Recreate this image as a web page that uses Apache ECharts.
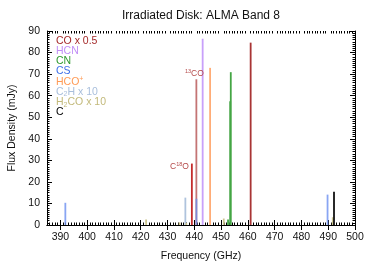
<!DOCTYPE html>
<html><head><meta charset="utf-8">
<script src="https://cdn.jsdelivr.net/npm/echarts@6/dist/echarts.min.js"></script>
<style>html,body{margin:0;padding:0;background:#fff}#c{width:374px;height:262px}</style>
</head><body><div id="c"></div>
<script>
// ---- data: [frequency GHz, flux density mJy] ----
const coLines    = [[461.04, 84.6]];
const co13Lines  = [[440.77, 67.6]];
const c18oLines  = [[439.09, 28.5]];
const hcnLines   = [[443.12, 86.4]];
const cnLines    = [[452.60, 2.5], [453.40, 57.4], [453.62, 70.9]];
const hcopLines  = [[445.90, 72.9]];
const c2hLines   = [[436.66, 12.7]];
const h2coLines  = [[422.00, 2.6], [434.50, 1.2], [437.00, 0.9], [451.00, 3.0], [491.70, 3.6]];
const csLines    = [[391.85, 10.3], [440.80, 12.2], [489.75, 14.1]];
const ciLines    = [[492.16, 15.4]];

const xTicks = [390, 400, 410, 420, 430, 440, 450, 460, 470, 480, 490, 500];
const legendNames = ['CO x 0.5', 'HCN', 'CN', 'CS', 'HCO+', 'C2H x 10', 'H2CO x 10', 'C'];

const X_MIN = 385, X_MAX = 500, Y_MIN = 0, Y_MAX = 90;
const xMinor = [];
for (let v = X_MIN + 1; v < X_MAX; v++) if (v % 10 !== 0) xMinor.push(v);

const FONT = '"Liberation Sans", Arial, sans-serif';
const seriesDefs = [
  { data: coLines,   color: '#a83434' },
  { data: co13Lines, color: '#c47474' },
  { data: c18oLines, color: '#c42c2c' },
  { data: hcnLines,  color: '#c8a0fa' },
  { data: cnLines,   color: '#44a544' },
  { data: hcopLines, color: '#ffac76' },
  { data: c2hLines,  color: '#afc3dd' },
  { data: h2coLines, color: '#cdc690' },
  { data: csLines,   color: '#6b8ff0', opacity: 0.8 },
  { data: ciLines,   color: '#111111' }
];

function makeSeries(def) {
  return {
    type: 'custom', xAxisIndex: 0, yAxisIndex: 0, data: def.data, silent: true,
    renderItem: function (params, api) {
      const p0 = api.coord([api.value(0), 0]);
      const p1 = api.coord([api.value(0), api.value(1)]);
      return { type: 'line', shape: { x1: p0[0], y1: p0[1], x2: p1[0], y2: p1[1] },
        style: { stroke: def.color, lineWidth: 1.8, opacity: def.opacity || 1 } };
    }
  };
}

const axisLineStyle = { show: true, lineStyle: { color: '#000', width: 1 } };
const chart = echarts.init(document.getElementById('c'), null, { renderer: 'canvas' });
const gridRect = { left: 47, right: 19, top: 31, bottom: 37 };
const gridBase = { containLabel: false, outerBoundsMode: 'none' };

const option = {
  animation: false,
  backgroundColor: '#fff',
  grid: [Object.assign({}, gridBase, gridRect), Object.assign({}, gridBase, gridRect)],
  xAxis: [
    { type: 'value', gridIndex: 0, position: 'bottom', min: X_MIN, max: X_MAX,
      axisLine: axisLineStyle, splitLine: { show: false },
      axisTick: { show: true, inside: true, length: 5, customValues: xTicks, lineStyle: { color: '#000' } },
      axisLabel: { show: true, customValues: xTicks, fontSize: 10.5, color: '#111', margin: 7, fontFamily: FONT },
      name: 'Frequency (GHz)', nameLocation: 'middle', nameGap: 26,
      nameTextStyle: { fontSize: 10.5, color: '#111', fontFamily: FONT } },
    { type: 'value', gridIndex: 0, position: 'top', min: X_MIN, max: X_MAX,
      axisLine: axisLineStyle, splitLine: { show: false },
      axisTick: { show: true, inside: true, length: 5, customValues: xTicks, lineStyle: { color: '#000' } },
      axisLabel: { show: false } },
    { type: 'value', gridIndex: 1, position: 'bottom', min: X_MIN, max: X_MAX,
      axisLine: { show: false }, splitLine: { show: false },
      axisTick: { show: true, inside: true, length: 2.5, customValues: xMinor, lineStyle: { color: '#000' } },
      axisLabel: { show: false } },
    { type: 'value', gridIndex: 1, position: 'top', min: X_MIN, max: X_MAX,
      axisLine: { show: false }, splitLine: { show: false },
      axisTick: { show: true, inside: true, length: 2.5, customValues: xMinor, lineStyle: { color: '#000' } },
      axisLabel: { show: false } }
  ],
  yAxis: [
    { type: 'value', gridIndex: 0, position: 'left', min: Y_MIN, max: Y_MAX, interval: 10,
      axisLine: axisLineStyle, splitLine: { show: false },
      axisTick: { show: true, inside: true, length: 5, lineStyle: { color: '#000' } },
      minorTick: { show: true, splitNumber: 10, length: 2.5, lineStyle: { color: '#000' } },
      axisLabel: { fontSize: 10.5, color: '#111', margin: 7, fontFamily: FONT },
      name: 'Flux Density (mJy)', nameLocation: 'middle', nameGap: 28,
      nameTextStyle: { fontSize: 10.5, color: '#111', fontFamily: FONT } },
    { type: 'value', gridIndex: 0, position: 'right', min: Y_MIN, max: Y_MAX, interval: 10,
      axisLine: axisLineStyle, splitLine: { show: false },
      axisTick: { show: true, inside: true, length: 5, lineStyle: { color: '#000' } },
      minorTick: { show: true, splitNumber: 10, length: 2.5, lineStyle: { color: '#000' } },
      axisLabel: { show: false } },
    { type: 'value', gridIndex: 1, min: Y_MIN, max: Y_MAX, show: false }
  ],
  series: seriesDefs.map(makeSeries)
};
chart.setOption(option);

// ---- texts: title, legend, annotations ----
const legendColors = ['#a52a2a', '#c18ef6', '#2e9a2e', '#3e6fe8', '#ff9a55', '#a9bfdc', '#c2b97a', '#000000'];
const legendRich = [
  '{n|CO x 0.5}', '{n|HCN}', '{n|CN}', '{n|CS}', '{n|HCO}{p|+}', '{n|C}{b|2}{n|H x 10}', '{n|H}{b|2}{n|CO x 10}', '{n|C}'
];
const graphics = [];
const plotLeft = gridRect.left, plotRight = 374 - gridRect.right;
graphics.push({ type: 'text', z: 100, x: (plotLeft + plotRight) / 2, y: 16,
  style: { text: 'Irradiated Disk: ALMA Band 8', font: '12px ' + FONT, fill: '#111', align: 'center', verticalAlign: 'middle' } });
legendRich.forEach(function (t, i) {
  const c = legendColors[i];
  graphics.push({ type: 'text', z: 100, x: 56, y: 41 + i * 10.2,
    style: { text: t, fill: c, align: 'left', verticalAlign: 'middle',
      rich: { n: { fontSize: 10.5, fontFamily: FONT, fill: c, lineHeight: 12 },
              p: { fontSize: 7, fontFamily: FONT, fill: c, verticalAlign: 'top' },
              b: { fontSize: 7, fontFamily: FONT, fill: c, verticalAlign: 'bottom' } } } });
});
const annColor = '#b44848';
const annRich = { n: { fontSize: 8.5, fontFamily: FONT, fill: annColor, lineHeight: 10 },
                  p: { fontSize: 5.5, fontFamily: FONT, fill: annColor, verticalAlign: 'top' } };
const p13 = chart.convertToPixel({ xAxisIndex: 0, yAxisIndex: 0 }, co13Lines[0]);
graphics.push({ type: 'text', z: 100, x: p13[0] - 2, y: p13[1] - 0.5,
  style: { text: '{p|13}{n|CO}', fill: annColor, align: 'center', verticalAlign: 'bottom', rich: annRich } });
const p18 = chart.convertToPixel({ xAxisIndex: 0, yAxisIndex: 0 }, c18oLines[0]);
graphics.push({ type: 'text', z: 100, x: p18[0] - 3, y: p18[1] + 3,
  style: { text: '{n|C}{p|18}{n|O}', fill: annColor, align: 'right', verticalAlign: 'middle', rich: annRich } });
chart.setOption({ graphic: graphics });
</script></body></html>
